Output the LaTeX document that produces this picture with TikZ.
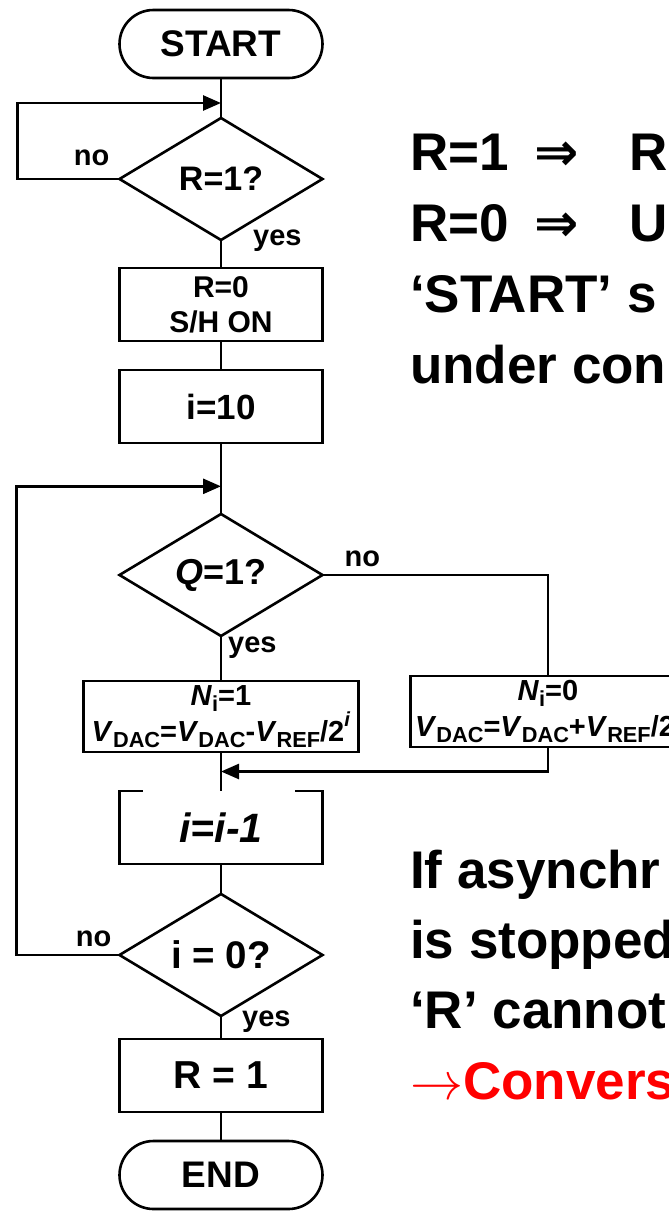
\RequirePackage{fix-cm}
\documentclass[tikz,border=0pt]{standalone}
\usepackage{fontspec}
\setmainfont{Liberation Sans}
\newfontfamily\arrowfont{DejaVu Sans}
\usetikzlibrary{arrows.meta,calc,positioning,shapes.geometric}
\newcommand\dsub[1]{\raisebox{-0.2em}{\scalebox{0.75}{#1}}}
\newcommand\dsup[1]{\raisebox{0.5em}{\scalebox{0.7}{#1}}}
\tikzset{
  flowterm/.style={
    draw,
    line width=2.6pt,
    rounded corners=34pt,
    minimum width=203pt,
    minimum height=68pt,
    inner sep=0pt,
    outer sep=0pt,
    font=\fontsize{37}{40}\selectfont\bfseries
  },
  flowbox/.style={
    draw,
    line width=2.6pt,
    minimum width=203pt,
    minimum height=73pt,
    inner sep=0pt,
    outer sep=0pt,
    align=center,
    font=\fontsize{30}{35}\selectfont\bfseries
  },
  flowbig/.style={flowbox, font=\fontsize{36}{40}\selectfont\bfseries},
  flowwide/.style={flowbox, minimum width=275pt, minimum height=71pt,
    font=\fontsize{29}{35}\selectfont\bfseries},
  flowopen/.style={flowbox, draw=none, font=\fontsize{41}{44}\selectfont\bfseries},
  flowdec/.style={
    diamond,
    aspect=1.66,
    draw,
    line width=2.6pt,
    minimum width=203pt,
    minimum height=122pt,
    inner sep=0pt,
    outer sep=0pt,
    font=\fontsize{34}{38}\selectfont\bfseries
  },
  flowline/.style={line width=2.6pt},
  flowarrow/.style={flowline, -{Triangle[length=18pt,width=15pt]}},
  flowlabel/.style={inner sep=0pt, font=\fontsize{29}{30}\selectfont\bfseries},
  bigline/.style={anchor=base west, inner sep=0pt, font=\fontsize{53}{60}\selectfont\bfseries}
}
\begin{document}
\begin{tikzpicture}[x=1pt, y=-1pt]
  \useasboundingbox (0,0) rectangle (669,1211);
  \clip (0,0) rectangle (669,1211);
  % main column
  \node[flowterm] (start) at (221,44) {START};
  \node[flowdec, below=40pt of start] (rtest) {R=1?};
  \node[flowbox, below=28pt of rtest] (reset) {R=0\\S/H ON};
  \node[flowbox, below=29pt of reset, font=\fontsize{35}{40}\selectfont\bfseries] (init) {i=10};
  \node[flowdec, below=71pt of init, font=\fontsize{36}{40}\selectfont\bfseries] (qtest) {\textit{Q}=1?};
  \node[flowwide, below=45pt of qtest] (setone)
    {\textit{N}\dsub{i}=1\\\textit{V}\dsub{DAC}=\textit{V}\dsub{DAC}-\textit{V}\dsub{REF}/2\dsup{\textit{i}}};
  \node[flowwide, right=52pt of setone, yshift=5pt] (setzero)
    {\textit{N}\dsub{i}=0\\\textit{V}\dsub{DAC}=\textit{V}\dsub{DAC}+\textit{V}\dsub{REF}/2\dsup{\textit{i}}};
  \node[flowopen, below=39pt of setone] (decr) {\textit{i=i-1}};
  \node[flowdec, below=30pt of decr, font=\fontsize{38.5}{42}\selectfont\bfseries] (itest) {i = 0?};
  \node[flowbig, below=23pt of itest, font=\fontsize{39}{42}\selectfont\bfseries] (done) {R = 1};
  \node[flowterm, below=29pt of done] (finish) {END};
  % open box round i=i-1
  \draw[flowline] ([xshift=23pt]decr.north west) -- (decr.north west) -- (decr.south west)
    -- (decr.south east) -- (decr.north east) -- ([xshift=-28pt]decr.north east);
  % connectors
  \coordinate (rjoin) at ($(start.south)!0.625!(rtest.north)$);
  \coordinate (qjoin) at ($(init.south)!0.61!(qtest.north)$);
  \coordinate (mjoin) at ($(setone.south)!0.5!(decr.north)$);
  \draw[flowline] (start) -- (rtest);
  \draw[flowarrow] (rtest.west) -- ++(-102,0) |- (rjoin);
  \draw[flowline] (rtest) -- (reset);
  \draw[flowline] (reset) -- (init);
  \draw[flowline] (init) -- (qtest);
  \draw[flowline] (qtest.south) -- (qtest.south |- setone.north);
  \draw[flowline] (qtest.east) -| (setzero.north);
  \draw[flowline] (setone.south) -- (setone.south |- decr.north);
  \draw[flowarrow] (setzero.south) |- (mjoin);
  \draw[flowline] (decr) -- (itest);
  \draw[flowarrow] (itest.west) -- ++(-103,0) |- (qjoin);
  \draw[flowline] (itest) -- (done);
  \draw[flowline] (done) -- (finish);
  % yes/no labels
  \node[flowlabel, anchor=base east] (rno) at ([xshift=-10pt,yshift=14pt]rtest.west) {no};
  \node[flowlabel, anchor=base west] (ryes) at ([xshift=32pt,yshift=-5pt]rtest.south) {yes};
  \node[flowlabel, anchor=base west] (qno) at ([xshift=22pt,yshift=9pt]qtest.east) {no};
  \node[flowlabel, anchor=base west] (qyes) at ([xshift=7pt,yshift=-16pt]qtest.south) {yes};
  \node[flowlabel, anchor=base east] (ino) at ([xshift=-8pt,yshift=9pt]itest.west) {no};
  \node[flowlabel, anchor=base west] (iyes) at ([xshift=21pt,yshift=-10pt]itest.south) {yes};
  % notes on the right
  \node[bigline] (note1) at (410,170) {R=1\hspace{26pt}{\arrowfont ⇒}\hspace{50pt}R};
  \node[bigline] (note2) at (410,241) {R=0\hspace{26pt}{\arrowfont ⇒}\hspace{50pt}U};
  \node[bigline] (note3) at (410,312) {‘START’ s};
  \node[bigline] (note4) at (410,383) {under con};
  \node[bigline] (warn1) at (410,888) {If asynchr};
  \node[bigline] (warn2) at (410,958) {is stopped};
  \node[bigline] (warn3) at (410,1028) {‘R’ cannot};
  \node[bigline, text=red] (warn4) at (410,1099) {$\rightarrow$Convers};
\end{tikzpicture}
\end{document}
